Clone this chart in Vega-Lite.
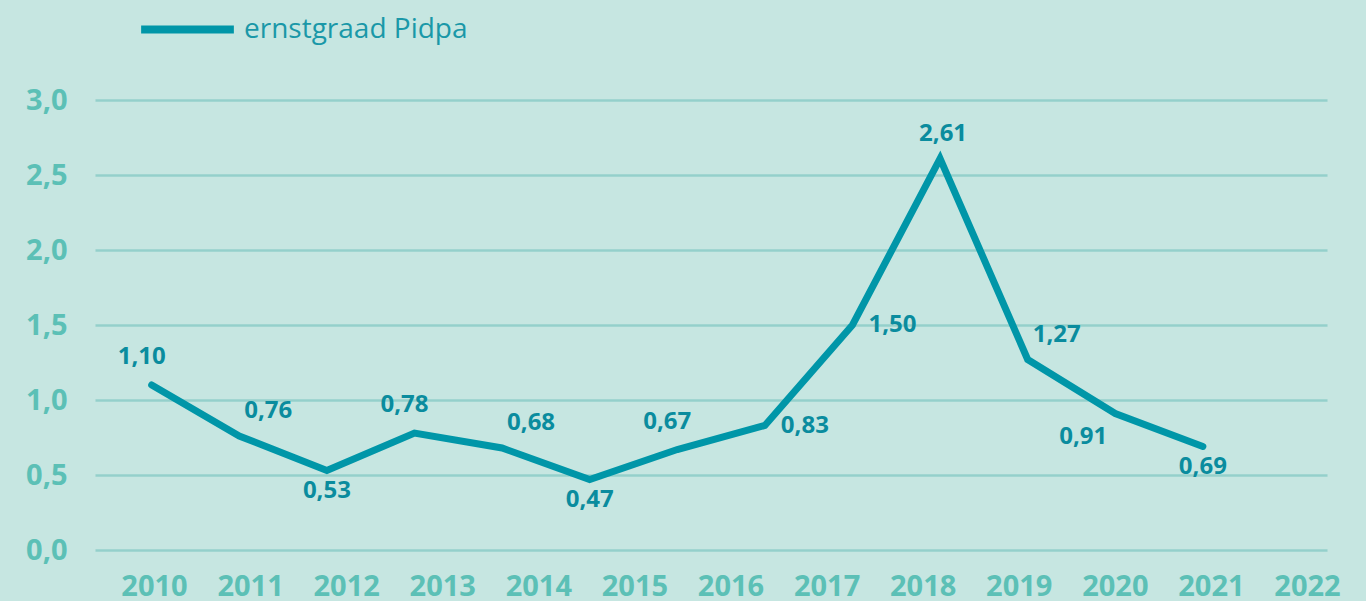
{
  "$schema": "https://vega.github.io/schema/vega-lite/v6.json",
  "width": 1232,
  "height": 450,
  "autosize": {"type": "none"},
  "padding": {"left": 95, "top": 100, "right": 39, "bottom": 51},
  "background": "#c6e6e1",
  "config": {"view": {"stroke": null}, "font": "Open Sans"},
  "data": {
    "values": [
      {"year": 2010, "value": 1.10, "label": "1,10", "series": "ernstgraad Pidpa"},
      {"year": 2011, "value": 0.76, "label": "0,76", "series": "ernstgraad Pidpa"},
      {"year": 2012, "value": 0.53, "label": "0,53", "series": "ernstgraad Pidpa"},
      {"year": 2013, "value": 0.78, "label": "0,78", "series": "ernstgraad Pidpa"},
      {"year": 2014, "value": 0.68, "label": "0,68", "series": "ernstgraad Pidpa"},
      {"year": 2015, "value": 0.47, "label": "0,47", "series": "ernstgraad Pidpa"},
      {"year": 2016, "value": 0.67, "label": "0,67", "series": "ernstgraad Pidpa"},
      {"year": 2017, "value": 0.83, "label": "0,83", "series": "ernstgraad Pidpa"},
      {"year": 2018, "value": 1.50, "label": "1,50", "series": "ernstgraad Pidpa"},
      {"year": 2019, "value": 2.61, "label": "2,61", "series": "ernstgraad Pidpa"},
      {"year": 2020, "value": 1.27, "label": "1,27", "series": "ernstgraad Pidpa"},
      {"year": 2021, "value": 0.91, "label": "0,91", "series": "ernstgraad Pidpa"},
      {"year": 2022, "value": 0.69, "label": "0,69", "series": "ernstgraad Pidpa"}
    ]
  },
  "layer": [
    {
      "mark": {"type": "point", "opacity": 0},
      "encoding": {
        "x": {
          "field": "year", "type": "quantitative",
          "scale": {"domain": [2009.386, 2022.208]},
          "axis": {
            "values": [2010, 2011, 2012, 2013, 2014, 2015, 2016, 2017, 2018, 2019, 2020, 2021, 2022],
            "format": "d", "grid": false, "domain": false, "ticks": false,
            "labelFontSize": 29, "labelFontWeight": "bold", "labelColor": "#5cc0b6",
            "labelPadding": 22, "labelFlush": false, "labelOverlap": false, "title": null
          }
        },
        "y": {
          "field": "value", "type": "quantitative",
          "scale": {"domain": [0, 3]},
          "axis": {
            "values": [0, 0.5, 1, 1.5, 2, 2.5, 3],
            "labelExpr": "replace(format(datum.value, '.1f'), '.', ',')",
            "grid": true, "gridColor": "#94d0cb", "gridWidth": 2.5,
            "domain": false, "ticks": false,
            "labelFontSize": 29, "labelFontWeight": "bold", "labelColor": "#5cc0b6",
            "labelPadding": 28, "title": null
          }
        }
      }
    },
    {
      "encoding": {
        "x": {"field": "year", "type": "quantitative", "scale": {"domain": [2009.353, 2023.417]}, "axis": null},
        "y": {"field": "value", "type": "quantitative"}
      },
      "layer": [
        {
          "mark": {"type": "line", "strokeWidth": 7, "strokeCap": "round", "strokeJoin": "miter"},
          "encoding": {
            "color": {
              "field": "series", "type": "nominal",
              "scale": {"range": ["#0096a8"]},
              "legend": {
                "orient": "none", "legendX": 42, "legendY": -121, "direction": "horizontal",
                "title": null, "symbolType": "stroke", "symbolSize": 8600, "symbolStrokeWidth": 8,
                "labelFontSize": 28, "labelColor": "#1a98a8", "labelOffset": 6, "labelLimit": 500, "labelFont": "Open Sans"
              }
            }
          }
        },
        {
          "transform": [{"filter": {"field": "year", "oneOf": [2010, 2013, 2016]}}],
          "mark": {"type": "text", "dx": -10, "dy": -28, "fontSize": 24, "fontWeight": "bold", "color": "#0a8c9e", "baseline": "middle", "align": "center"},
          "encoding": {"text": {"field": "label"}}
        },
        {
          "transform": [{"filter": {"field": "year", "oneOf": [2019]}}],
          "mark": {"type": "text", "dx": 3, "dy": -25, "fontSize": 24, "fontWeight": "bold", "color": "#0a8c9e", "baseline": "middle", "align": "center"},
          "encoding": {"text": {"field": "label"}}
        },
        {
          "transform": [{"filter": {"field": "year", "oneOf": [2011, 2014, 2020]}}],
          "mark": {"type": "text", "dx": 29, "dy": -25, "fontSize": 24, "fontWeight": "bold", "color": "#0a8c9e", "baseline": "middle", "align": "center"},
          "encoding": {"text": {"field": "label"}}
        },
        {
          "transform": [{"filter": {"field": "year", "oneOf": [2012, 2015, 2022]}}],
          "mark": {"type": "text", "dx": 0, "dy": 20, "fontSize": 24, "fontWeight": "bold", "color": "#0a8c9e", "baseline": "middle", "align": "center"},
          "encoding": {"text": {"field": "label"}}
        },
        {
          "transform": [{"filter": {"field": "year", "oneOf": [2017, 2018]}}],
          "mark": {"type": "text", "dx": 40, "dy": 0, "fontSize": 24, "fontWeight": "bold", "color": "#0a8c9e", "baseline": "middle", "align": "center"},
          "encoding": {"text": {"field": "label"}}
        },
        {
          "transform": [{"filter": {"field": "year", "oneOf": [2021]}}],
          "mark": {"type": "text", "dx": -32, "dy": 23, "fontSize": 24, "fontWeight": "bold", "color": "#0a8c9e", "baseline": "middle", "align": "center"},
          "encoding": {"text": {"field": "label"}}
        }
      ]
    }
  ],
  "resolve": {"scale": {"x": "independent"}}
}
